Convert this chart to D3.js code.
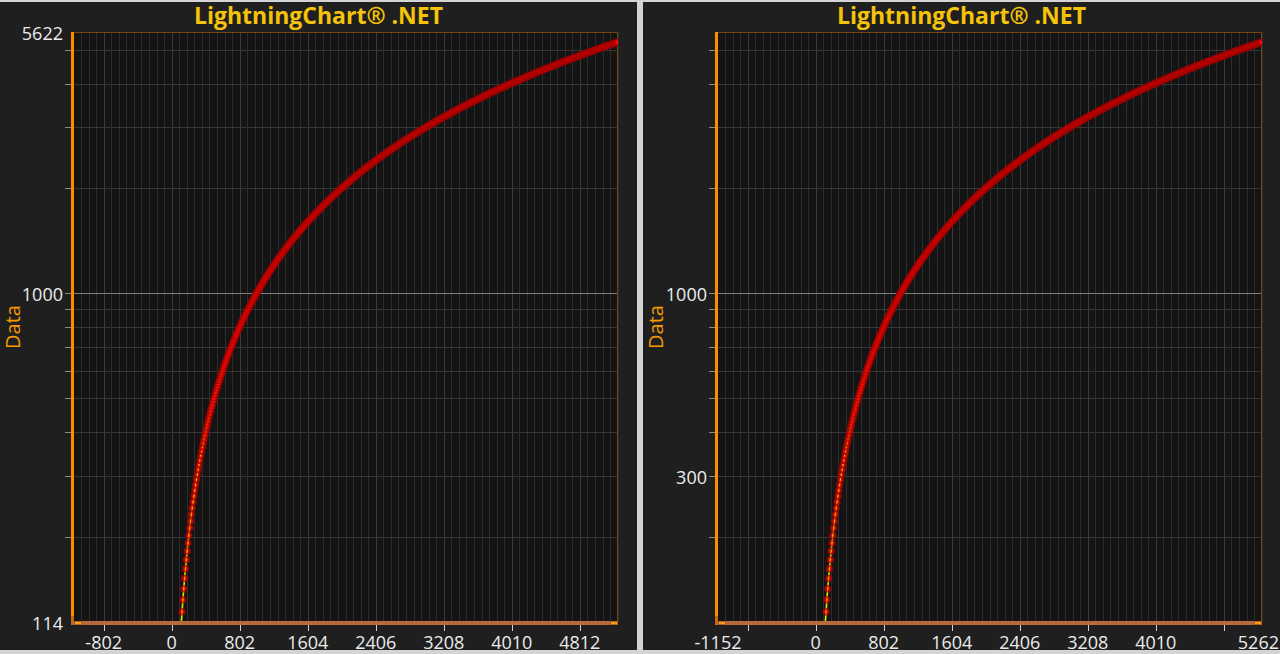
<!DOCTYPE html>
<html><head><meta charset="utf-8">
<script src="https://cdn.jsdelivr.net/npm/d3@7"></script>
<style>html,body{margin:0;padding:0;background:#d6d6d6;overflow:hidden}</style>
</head><body>
<svg id="c" width="1280" height="654"></svg>
<script>
// ---- data ----
const xValues = [
102,112,122,132,142,152,162,172,182,192,
202,212,222,232,242,252,262,272,282,292,
302,312,322,332,342,352,362,372,382,392,
402,412,422,432,442,452,462,472,482,492,
502,512,522,532,542,552,562,572,582,592,
602,612,622,632,642,652,662,672,682,692,
702,712,722,732,742,752,762,772,782,792,
802,812,822,832,842,852,862,872,882,892,
902,912,922,932,942,952,962,972,982,992,
1002,1012,1022,1032,1042,1052,1062,1072,1082,1092,
1102,1112,1122,1132,1142,1152,1162,1172,1182,1192,
1202,1212,1222,1232,1242,1252,1262,1272,1282,1292,
1302,1312,1322,1332,1342,1352,1362,1372,1382,1392,
1402,1412,1422,1432,1442,1452,1462,1472,1482,1492,
1502,1512,1522,1532,1542,1552,1562,1572,1582,1592,
1602,1612,1622,1632,1642,1652,1662,1672,1682,1692,
1702,1712,1722,1732,1742,1752,1762,1772,1782,1792,
1802,1812,1822,1832,1842,1852,1862,1872,1882,1892,
1902,1912,1922,1932,1942,1952,1962,1972,1982,1992,
2002,2012,2022,2032,2042,2052,2062,2072,2082,2092,
2102,2112,2122,2132,2142,2152,2162,2172,2182,2192,
2202,2212,2222,2232,2242,2252,2262,2272,2282,2292,
2302,2312,2322,2332,2342,2352,2362,2372,2382,2392,
2402,2412,2422,2432,2442,2452,2462,2472,2482,2492,
2502,2512,2522,2532,2542,2552,2562,2572,2582,2592,
2602,2612,2622,2632,2642,2652,2662,2672,2682,2692,
2702,2712,2722,2732,2742,2752,2762,2772,2782,2792,
2802,2812,2822,2832,2842,2852,2862,2872,2882,2892,
2902,2912,2922,2932,2942,2952,2962,2972,2982,2992,
3002,3012,3022,3032,3042,3052,3062,3072,3082,3092,
3102,3112,3122,3132,3142,3152,3162,3172,3182,3192,
3202,3212,3222,3232,3242,3252,3262,3272,3282,3292,
3302,3312,3322,3332,3342,3352,3362,3372,3382,3392,
3402,3412,3422,3432,3442,3452,3462,3472,3482,3492,
3502,3512,3522,3532,3542,3552,3562,3572,3582,3592,
3602,3612,3622,3632,3642,3652,3662,3672,3682,3692,
3702,3712,3722,3732,3742,3752,3762,3772,3782,3792,
3802,3812,3822,3832,3842,3852,3862,3872,3882,3892,
3902,3912,3922,3932,3942,3952,3962,3972,3982,3992,
4002,4012,4022,4032,4042,4052,4062,4072,4082,4092,
4102,4112,4122,4132,4142,4152,4162,4172,4182,4192,
4202,4212,4222,4232,4242,4252,4262,4272,4282,4292,
4302,4312,4322,4332,4342,4352,4362,4372,4382,4392,
4402,4412,4422,4432,4442,4452,4462,4472,4482,4492,
4502,4512,4522,4532,4542,4552,4562,4572,4582,4592,
4602,4612,4622,4632,4642,4652,4662,4672,4682,4692,
4702,4712,4722,4732,4742,4752,4762,4772,4782,4792,
4802,4812,4822,4832,4842,4852,4862,4872,4882,4892,
4902,4912,4922,4932,4942,4952,4962,4972,4982,4992,
5002,5012,5022,5032,5042,5052,5062,5072,5082,5092,
5102,5112,5122,5132,5142,5152,5162,5172,5182,5192,
5202,5212,5222,5232,5242,5252,5262
];
const yValues = [
102,112,122,132,142,152,162,172,182,192,
202,212,222,232,242,252,262,272,282,292,
302,312,322,332,342,352,362,372,382,392,
402,412,422,432,442,452,462,472,482,492,
502,512,522,532,542,552,562,572,582,592,
602,612,622,632,642,652,662,672,682,692,
702,712,722,732,742,752,762,772,782,792,
802,812,822,832,842,852,862,872,882,892,
902,912,922,932,942,952,962,972,982,992,
1002,1012,1022,1032,1042,1052,1062,1072,1082,1092,
1102,1112,1122,1132,1142,1152,1162,1172,1182,1192,
1202,1212,1222,1232,1242,1252,1262,1272,1282,1292,
1302,1312,1322,1332,1342,1352,1362,1372,1382,1392,
1402,1412,1422,1432,1442,1452,1462,1472,1482,1492,
1502,1512,1522,1532,1542,1552,1562,1572,1582,1592,
1602,1612,1622,1632,1642,1652,1662,1672,1682,1692,
1702,1712,1722,1732,1742,1752,1762,1772,1782,1792,
1802,1812,1822,1832,1842,1852,1862,1872,1882,1892,
1902,1912,1922,1932,1942,1952,1962,1972,1982,1992,
2002,2012,2022,2032,2042,2052,2062,2072,2082,2092,
2102,2112,2122,2132,2142,2152,2162,2172,2182,2192,
2202,2212,2222,2232,2242,2252,2262,2272,2282,2292,
2302,2312,2322,2332,2342,2352,2362,2372,2382,2392,
2402,2412,2422,2432,2442,2452,2462,2472,2482,2492,
2502,2512,2522,2532,2542,2552,2562,2572,2582,2592,
2602,2612,2622,2632,2642,2652,2662,2672,2682,2692,
2702,2712,2722,2732,2742,2752,2762,2772,2782,2792,
2802,2812,2822,2832,2842,2852,2862,2872,2882,2892,
2902,2912,2922,2932,2942,2952,2962,2972,2982,2992,
3002,3012,3022,3032,3042,3052,3062,3072,3082,3092,
3102,3112,3122,3132,3142,3152,3162,3172,3182,3192,
3202,3212,3222,3232,3242,3252,3262,3272,3282,3292,
3302,3312,3322,3332,3342,3352,3362,3372,3382,3392,
3402,3412,3422,3432,3442,3452,3462,3472,3482,3492,
3502,3512,3522,3532,3542,3552,3562,3572,3582,3592,
3602,3612,3622,3632,3642,3652,3662,3672,3682,3692,
3702,3712,3722,3732,3742,3752,3762,3772,3782,3792,
3802,3812,3822,3832,3842,3852,3862,3872,3882,3892,
3902,3912,3922,3932,3942,3952,3962,3972,3982,3992,
4002,4012,4022,4032,4042,4052,4062,4072,4082,4092,
4102,4112,4122,4132,4142,4152,4162,4172,4182,4192,
4202,4212,4222,4232,4242,4252,4262,4272,4282,4292,
4302,4312,4322,4332,4342,4352,4362,4372,4382,4392,
4402,4412,4422,4432,4442,4452,4462,4472,4482,4492,
4502,4512,4522,4532,4542,4552,4562,4572,4582,4592,
4602,4612,4622,4632,4642,4652,4662,4672,4682,4692,
4702,4712,4722,4732,4742,4752,4762,4772,4782,4792,
4802,4812,4822,4832,4842,4852,4862,4872,4882,4892,
4902,4912,4922,4932,4942,4952,4962,4972,4982,4992,
5002,5012,5022,5032,5042,5052,5062,5072,5082,5092,
5102,5112,5122,5132,5142,5152,5162,5172,5182,5192,
5202,5212,5222,5232,5242,5252,5262
];
const xDomain = [-1152, 5262];
const yDomain = [114, 5622];
const xMajorTicks = [-802, 0, 802, 1604, 2406, 3208, 4010, 4812];
const leftXTickLabels = [-802, 0, 802, 1604, 2406, 3208, 4010, 4812];
const rightXTickLabels = [-1152, 0, 802, 1604, 2406, 3208, 4010, 5262];
const leftYTickLabels = [114, 1000, 5622];
const rightYTickLabels = [300, 1000];
const yMajorGrid = [1000];
const yMinorGrid = [200, 300, 400, 500, 600, 700, 800, 900, 2000, 3000, 4000, 5000];
const titleText = "LightningChart® .NET";
const yAxisTitle = "Data";

// ---- drawing ----
const svg = d3.select('#c');
const FONT = "'Open Sans', 'Noto Sans', sans-serif";
svg.append('rect').attr('width', 1280).attr('height', 654).attr('fill', '#d4d4d4');

const defs = svg.append('defs');
const grad = defs.append('radialGradient').attr('id', 'mk');
grad.append('stop').attr('offset', '0%').attr('stop-color', 'rgb(255,40,0)').attr('stop-opacity', 0.15);
grad.append('stop').attr('offset', '45%').attr('stop-color', 'rgb(255,0,0)').attr('stop-opacity', 0.7);
grad.append('stop').attr('offset', '100%').attr('stop-color', 'rgb(140,0,0)').attr('stop-opacity', 0.8);

const panels = [
  {x0: 0, w: 637, p: {l: 74, r: 618, t: 32, b: 622}, xLabels: leftXTickLabels, yLabels: leftYTickLabels, id: 'a'},
  {x0: 643, w: 637, p: {l: 718, r: 1262, t: 32, b: 622}, xLabels: rightXTickLabels, yLabels: rightYTickLabels, id: 'b'}
];

panels.forEach(P => {
  const p = P.p;
  const g = svg.append('g');
  g.append('rect').attr('x', P.x0).attr('y', 2).attr('width', P.w).attr('height', 648).attr('fill', '#1f1f1f');
  g.append('rect').attr('x', p.l).attr('y', p.t).attr('width', p.r - p.l).attr('height', p.b - p.t).attr('fill', '#141414');

  const x = d3.scaleLinear().domain(xDomain).range([p.l, p.r]);
  const y = d3.scaleLog().domain(yDomain).range([p.b, p.t]);

  // vertical grid: minor (9 divisions per major step) and major
  const step = 802 / 9;
  const minorX = d3.range(Math.ceil(xDomain[0] / step), Math.floor(xDomain[1] / step) + 1).map(k => k * step);
  g.append('g').selectAll('line').data(minorX).join('line')
    .attr('x1', d => Math.round(x(d)) + 0.5).attr('x2', d => Math.round(x(d)) + 0.5)
    .attr('y1', p.t).attr('y2', p.b).attr('stroke', '#2c2c2c').attr('stroke-width', 1);
  g.append('g').selectAll('line').data(xMajorTicks).join('line')
    .attr('x1', d => Math.round(x(d)) + 0.5).attr('x2', d => Math.round(x(d)) + 0.5)
    .attr('y1', p.t).attr('y2', p.b).attr('stroke', '#3a3a3a').attr('stroke-width', 1);

  // horizontal grid
  g.append('g').selectAll('line').data(yMinorGrid).join('line')
    .attr('x1', p.l).attr('x2', p.r)
    .attr('y1', d => Math.round(y(d)) + 0.5).attr('y2', d => Math.round(y(d)) + 0.5)
    .attr('stroke', '#363636').attr('stroke-width', 1);
  g.append('g').selectAll('line').data(yMajorGrid).join('line')
    .attr('x1', p.l).attr('x2', p.r)
    .attr('y1', d => Math.round(y(d)) + 0.5).attr('y2', d => Math.round(y(d)) + 0.5)
    .attr('stroke', '#7c7c7c').attr('stroke-width', 1);

  // plot border (top, right)
  g.append('path').attr('d', `M${p.l},${p.t + 0.5}H${p.r - 0.5}V${p.b}`)
    .attr('fill', 'none').attr('stroke', '#7a4508').attr('stroke-width', 1);

  // series
  defs.append('clipPath').attr('id', 'clip' + P.id).append('rect')
    .attr('x', p.l).attr('y', p.t).attr('width', p.r - p.l).attr('height', p.b - p.t);
  const pts = xValues.map((v, i) => [v, yValues[i]]);
  const sg = g.append('g').attr('clip-path', `url(#clip${P.id})`);
  sg.append('path').datum(pts)
    .attr('d', d3.line().x(d => x(d[0])).y(d => y(d[1])))
    .attr('fill', 'none').attr('stroke', '#e6e600').attr('stroke-width', 1.6);
  sg.append('g').selectAll('circle').data(pts).join('circle')
    .attr('cx', d => x(d[0])).attr('cy', d => y(d[1])).attr('r', 3.7)
    .attr('fill', 'url(#mk)');

  // y axis bar
  g.append('rect').attr('x', p.l - 3).attr('y', p.t).attr('width', 3).attr('height', p.b - p.t)
    .attr('fill', '#ff8c00');
  g.append('rect').attr('x', p.l - 3).attr('y', p.b - 6).attr('width', 3).attr('height', 6)
    .attr('fill', '#c86a00');
  // y tick marks
  g.append('g').selectAll('line').data(yMinorGrid.concat(yMajorGrid)).join('line')
    .attr('x1', p.l - 9).attr('x2', p.l - 3)
    .attr('y1', d => Math.round(y(d)) + 0.5).attr('y2', d => Math.round(y(d)) + 0.5)
    .attr('stroke', '#8a8a8a').attr('stroke-width', 1);

  // x axis bar
  g.append('rect').attr('x', p.l - 3).attr('y', p.b - 1).attr('width', p.r - p.l + 3).attr('height', 4)
    .attr('fill', '#b86a3c');
  g.append('rect').attr('x', p.l + 0.5).attr('y', p.b - 0.5).attr('width', 7).attr('height', 3)
    .attr('fill', '#ff9a1a').attr('stroke', '#8a4a10').attr('stroke-width', 0.6);
  g.append('rect').attr('x', p.r - 7.5).attr('y', p.b - 0.5).attr('width', 7).attr('height', 3)
    .attr('fill', '#ff9a1a').attr('stroke', '#8a4a10').attr('stroke-width', 0.6);
  // x tick marks
  g.append('g').selectAll('line').data(xMajorTicks).join('line')
    .attr('x1', d => Math.round(x(d)) + 0.5).attr('x2', d => Math.round(x(d)) + 0.5)
    .attr('y1', p.b + 3).attr('y2', p.b + 9).attr('stroke', '#cfcfcf').attr('stroke-width', 1);

  // x labels (kept inside the panel edge)
  const panelRight = P.x0 + P.w - 1;
  g.append('g').selectAll('text').data(P.xLabels).join('text')
    .attr('y', 649).attr('text-anchor', 'middle')
    .attr('font-family', FONT).attr('font-size', 18).attr('fill', '#ececec')
    .text(d => d)
    .each(function(d) {
      const w = this.getComputedTextLength();
      const cx = Math.min(x(d), panelRight - w / 2);
      d3.select(this).attr('x', cx);
    });
  // y labels
  g.append('g').selectAll('text').data(P.yLabels).join('text')
    .attr('x', p.l - 11).attr('y', d => y(d) + 1).attr('text-anchor', 'end')
    .attr('dominant-baseline', 'central')
    .attr('font-family', FONT).attr('font-size', 18).attr('fill', '#ececec')
    .text(d => d);

  // title
  g.append('text').attr('x', P.x0 + P.w / 2).attr('y', 24).attr('text-anchor', 'middle')
    .attr('font-family', FONT).attr('font-weight', 700).attr('font-size', 23)
    .attr('fill', '#f5c40a').text(titleText);
  // y axis title
  g.append('text').attr('transform', `translate(${P.x0 + 20},${(p.t + p.b) / 2}) rotate(-90)`)
    .attr('text-anchor', 'middle').attr('font-family', FONT).attr('font-size', 20)
    .attr('fill', '#f59a00').text(yAxisTitle);
});
</script>
</body></html>
